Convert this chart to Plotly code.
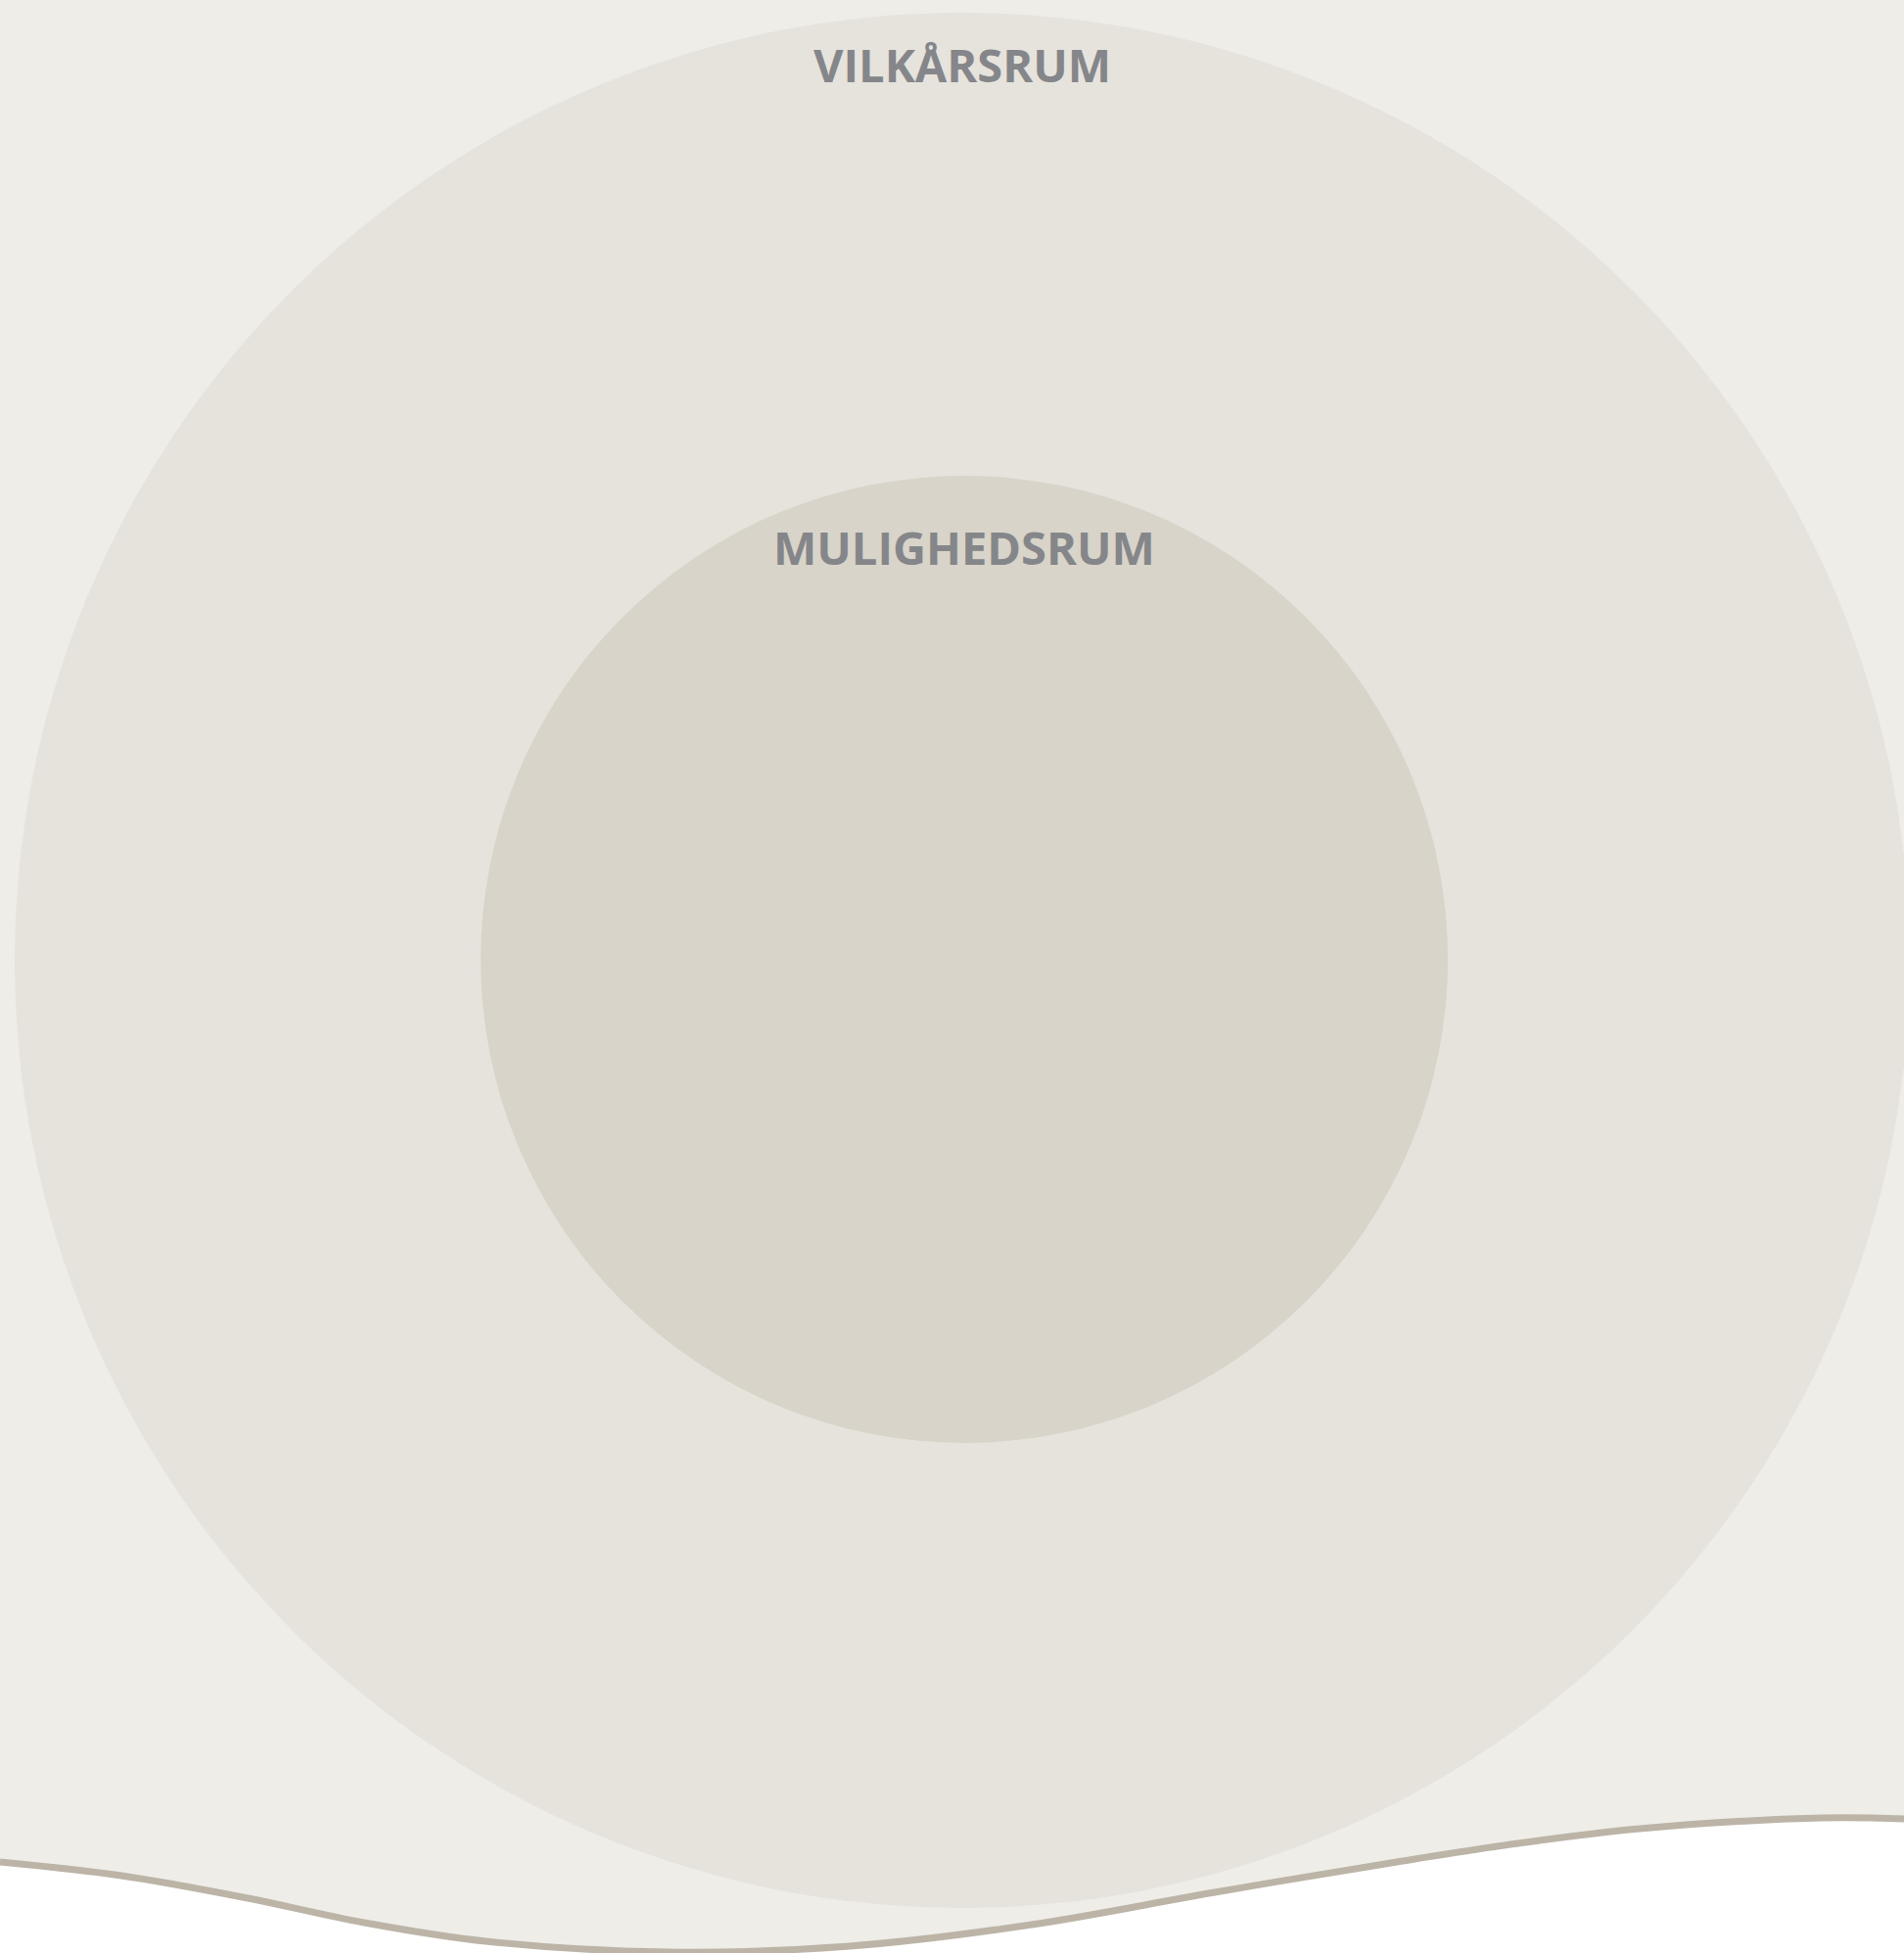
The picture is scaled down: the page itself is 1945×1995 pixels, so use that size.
import plotly.graph_objects as go

W, H = 1945, 1995

# Regions: (label, center x, center y (px from top), radius)
region_labels = ["VILKÅRSRUM", "MULIGHEDSRUM"]
region_cx = [983, 985]
region_cy = [981, 980]
region_r = [968, 494]
region_colors = ["#E6E3DD", "#D8D4C9"]
label_y = [66, 559]   # cap centre of label, px from top

# Bottom wave (px from top)
wave_x = [0, 124, 248, 372, 496, 682, 868, 1054, 1241, 1427, 1551, 1675, 1861, 1945]
wave_y = [1902, 1916, 1938, 1964, 1983, 1994, 1988, 1966, 1933, 1902, 1883, 1868, 1857, 1858]

BG = "#EEEDE8"
TEXT = "#85868A"
WAVE_LINE = "#BCB4A6"

fig = go.Figure()

shapes = []
for cx, cy, r, col in zip(region_cx, region_cy, region_r, region_colors):
    yc = H - cy
    shapes.append(dict(type="circle", xref="x", yref="y",
                       x0=cx - r, x1=cx + r, y0=yc - r, y1=yc + r,
                       fillcolor=col, line=dict(width=0), layer="below"))

wy = [H - v for v in wave_y]
fig.add_trace(go.Scatter(x=wave_x, y=wy, mode="lines",
                         line=dict(shape="spline", smoothing=1.0, color=WAVE_LINE, width=7),
                         fill="tozeroy", fillcolor="#FFFFFF", hoverinfo="skip",
                         showlegend=False, cliponaxis=False))

annotations = []
for lab, cx, ly in zip(region_labels, region_cx, label_y):
    annotations.append(dict(x=cx, y=H - ly, xref="x", yref="y", text="<b>%s</b>" % lab,
                            showarrow=False, xanchor="center", yanchor="middle",
                            font=dict(family="Open Sans", size=47, color=TEXT)))

fig.update_layout(
    width=W, height=H,
    margin=dict(l=0, r=0, t=0, b=0),
    paper_bgcolor=BG, plot_bgcolor=BG,
    shapes=shapes, annotations=annotations,
    xaxis=dict(range=[0, W], visible=False, fixedrange=True),
    yaxis=dict(range=[0, H], visible=False, fixedrange=True),
    showlegend=False,
)

fig.write_html("out.html", config={"displayModeBar": False},
               post_script="document.body.style.margin='0';document.body.style.overflow='hidden';")
